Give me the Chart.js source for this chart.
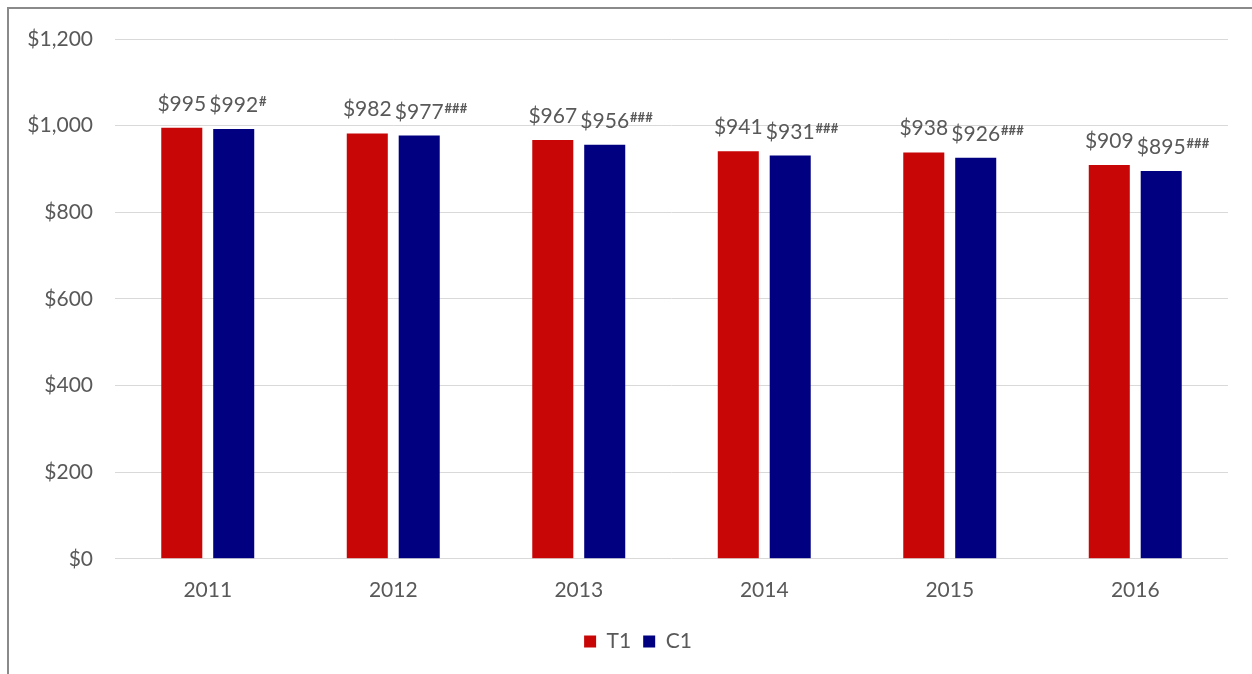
<!DOCTYPE html>
<html>
<head>
<meta charset="utf-8">
<script src="https://cdn.jsdelivr.net/npm/chart.js@4/dist/chart.umd.min.js"></script>
<style>
    html, body { margin: 0; padding: 0; background: #fff; }
    #wrap { position: relative; width: 1252px; height: 674px; overflow: hidden; }
    #frame {
        position: absolute; left: 7px; top: 7px; width: 1300px; height: 700px;
        border-left: 2px solid #8a8a8a; border-top: 2px solid #8a8a8a;
    }
    #financialChart { position: absolute; left: 0; top: 0; }
</style>
</head>
<body>
<div id="wrap">
    <div id="frame"></div>
    <canvas id="financialChart" width="1252" height="674"></canvas>
</div>
<script>
// Chart data
const years = ['2011', '2012', '2013', '2014', '2015', '2016'];
const t1Values = [995, 982, 967, 941, 938, 909];
const c1Values = [992, 977, 956, 931, 926, 895];
const c1Marks = ['#', '###', '###', '###', '###', '###'];
const yTicks = [0, 200, 400, 600, 800, 1000, 1200];

const textColor = '#595959';
const fontFamily = 'Lato, "Open Sans", sans-serif';

const money = v => '$' + v.toLocaleString('en-US');

// Value labels above the bars, with superscript markers on C1
const valueLabels = {
    id: 'valueLabels',
    afterDatasetsDraw(chart) {
        const ctx = chart.ctx;
        ctx.save();
        ctx.fillStyle = textColor;
        ctx.textBaseline = 'alphabetic';
        chart.data.datasets.forEach((ds, di) => {
            const meta = chart.getDatasetMeta(di);
            meta.data.forEach((bar, i) => {
                const text = money(ds.data[i]);
                const y = bar.y - 17;
                ctx.font = '21px ' + fontFamily;
                const w = ctx.measureText(text).width;
                ctx.textAlign = 'left';
                const x0 = bar.x - w / 2;
                ctx.fillText(text, x0, y);
                if (ds.marks && ds.marks[i]) {
                    ctx.font = 'bold 13px ' + fontFamily;
                    ctx.fillText(ds.marks[i], x0 + w + 1, y - 6);
                }
            });
        });
        ctx.restore();
    }
};

// legend sits a bit right of the canvas centre in the original
const legendShift = {
    id: 'legendShift',
    afterLayout(chart) {
        chart.legend.left = 48;
    }
};

document.addEventListener('DOMContentLoaded', function() {
    const ctx = document.getElementById('financialChart').getContext('2d');
    new Chart(ctx, {
        type: 'bar',
        data: {
            labels: years,
            datasets: [
                { label: 'T1', data: t1Values, backgroundColor: '#C80606' },
                { label: 'C1', data: c1Values, backgroundColor: '#000080', marks: c1Marks }
            ]
        },
        options: {
            responsive: false,
            devicePixelRatio: 1,
            animation: false,
            categoryPercentage: 0.56,
            barPercentage: 0.79,
            layout: { padding: { top: 39, right: 24, left: 0, bottom: 12 } },
            plugins: {
                tooltip: { enabled: false },
                legend: {
                    position: 'bottom',
                    labels: {
                        boxWidth: 12,
                        boxHeight: 12,
                        padding: 12,
                        color: textColor,
                        font: { family: fontFamily, size: 21 }
                    }
                }
            },
            scales: {
                x: {
                    grid: { display: false },
                    border: { display: false },
                    afterFit: scale => { scale.height += 5; },
                    ticks: {
                        color: textColor,
                        padding: 11,
                        font: { family: fontFamily, size: 21 }
                    }
                },
                y: {
                    min: 0,
                    max: 1200,
                    afterBuildTicks: scale => { scale.ticks = yTicks.map(v => ({ value: v })); },
                    afterFit: scale => { scale.width = 115; },
                    grid: { color: '#d9d9d9', drawTicks: false, lineWidth: 1 },
                    border: { display: false },
                    ticks: {
                        color: textColor,
                        padding: 22,
                        font: { family: fontFamily, size: 21 },
                        callback: v => money(v)
                    }
                }
            }
        },
        plugins: [valueLabels, legendShift]
    });
});
</script>
</body>
</html>
